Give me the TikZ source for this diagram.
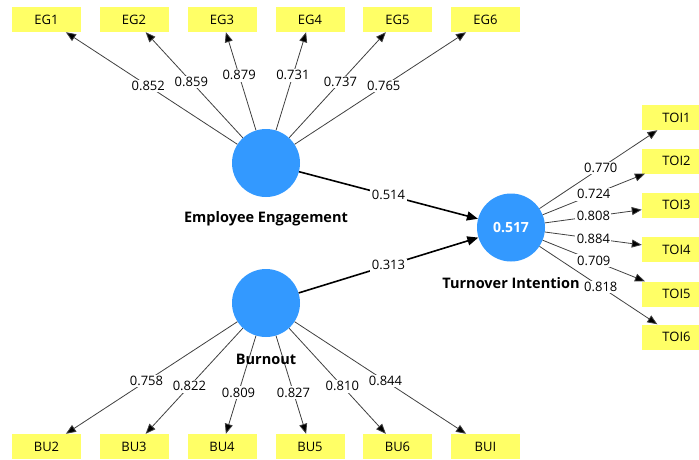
\documentclass[tikz,border=0pt]{standalone}
\usepackage{fontspec}
\setmainfont{Open Sans}
\usetikzlibrary{arrows.meta}
\definecolor{lvblue}{RGB}{51,153,255}
\definecolor{mvyellow}{RGB}{255,255,102}
\tikzset{
  /tikz/.cd,
  indicator/.style={fill=mvyellow,minimum width=69pt,minimum height=25pt,inner sep=0pt,font=\fontsize{13}{15}\selectfont},
  construct/.style={circle,fill=lvblue,minimum size=68pt,inner sep=0pt},
  loading/.style={draw=black!75,line width=0.8pt,-{Triangle[length=10pt,width=8pt,fill=black]}},
  inner/.style={draw=black,line width=1.6pt,-{Triangle[length=11pt,width=9pt]}},
  weight/.style={fill=white,inner sep=1.5pt,font=\fontsize{13}{15}\selectfont}
}

\begin{document}
\begin{tikzpicture}[x=1pt,y=-1pt,
                    conlabel/.style={font=\bfseries\fontsize{14.5}{16}\selectfont}]
  \useasboundingbox (0,0) rectangle (699,459);

  \node[construct] (eg) at (266,163) {};
  \node[construct] (bu) at (266,303) {};
  \node[construct,text=white,font=\bfseries\fontsize{14}{16}\selectfont] (toi) at (511,227.5) {0.517};

  \node[indicator] (eg1) at (46.5,19.5) {EG1};
  \node[indicator] (eg2) at (134,19.5) {EG2};
  \node[indicator] (eg3) at (222,19.5) {EG3};
  \node[indicator] (eg4) at (310,19.5) {EG4};
  \node[indicator] (eg5) at (397.5,19.5) {EG5};
  \node[indicator] (eg6) at (485.5,19.5) {EG6};

  \node[indicator] (bu2) at (46.5,446.5) {BU2};
  \node[indicator] (bu3) at (134,446.5) {BU3};
  \node[indicator] (bu4) at (222,446.5) {BU4};
  \node[indicator] (bu5) at (310,446.5) {BU5};
  \node[indicator] (bu6) at (397.5,446.5) {BU6};
  \node[indicator] (bui) at (485.5,446.5) {BUI};

  \node[indicator] (toi1) at (676.5,117.5) {TOI1};
  \node[indicator] (toi2) at (676.5,161) {TOI2};
  \node[indicator] (toi3) at (676.5,205) {TOI3};
  \node[indicator] (toi4) at (676.5,249.5) {TOI4};
  \node[indicator] (toi5) at (676.5,294) {TOI5};
  \node[indicator] (toi6) at (676.5,337) {TOI6};

  \draw[loading] (eg) -- node[weight,pos=.52] {0.852} (eg1);
  \draw[loading] (eg) -- node[weight,pos=.53] {0.859} (eg2);
  \draw[loading] (eg) -- node[weight,pos=.56] {0.879} (eg3);
  \draw[loading] (eg) -- node[weight,pos=.56] {0.731} (eg4);
  \draw[loading] (eg) -- node[weight,pos=.53] {0.737} (eg5);
  \draw[loading] (eg) -- node[weight,pos=.52] {0.765} (eg6);

  \draw[loading] (bu) -- node[weight,pos=.53] {0.758} (bu2);
  \draw[loading] (bu) -- node[weight,pos=.55] {0.822} (bu3);
  \draw[loading] (bu) -- node[weight,pos=.58] {0.809} (bu4);
  \draw[loading] (bu) -- node[weight,pos=.58] {0.827} (bu5);
  \draw[loading] (bu) -- node[weight,pos=.55] {0.810} (bu6);
  \draw[loading] (bu) -- node[weight,pos=.53] {0.844} (bui);

  \draw[loading] (toi) -- node[weight,pos=.52] {0.770} (toi1);
  \draw[loading] (toi) -- node[weight,pos=.5] {0.724} (toi2);
  \draw[loading] (toi) -- node[weight,pos=.5] {0.808} (toi3);
  \draw[loading] (toi) -- node[weight,pos=.5] {0.884} (toi4);
  \draw[loading] (toi) -- node[weight,pos=.5] {0.709} (toi5);
  \draw[loading] (toi) -- node[weight,pos=.52] {0.818} (toi6);

  \draw[inner] (eg) -- node[weight,pos=.5] {0.514} (toi);
  \draw[inner] (bu) -- node[weight,pos=.5] {0.313} (toi);

  \node[conlabel] (eglabel) at (266,219) {Employee Engagement};
  \node[conlabel] (bulabel) at (266,359) {Burnout};
  \node[conlabel] (toilabel) at (511,283) {Turnover Intention};
\end{tikzpicture}
\end{document}
